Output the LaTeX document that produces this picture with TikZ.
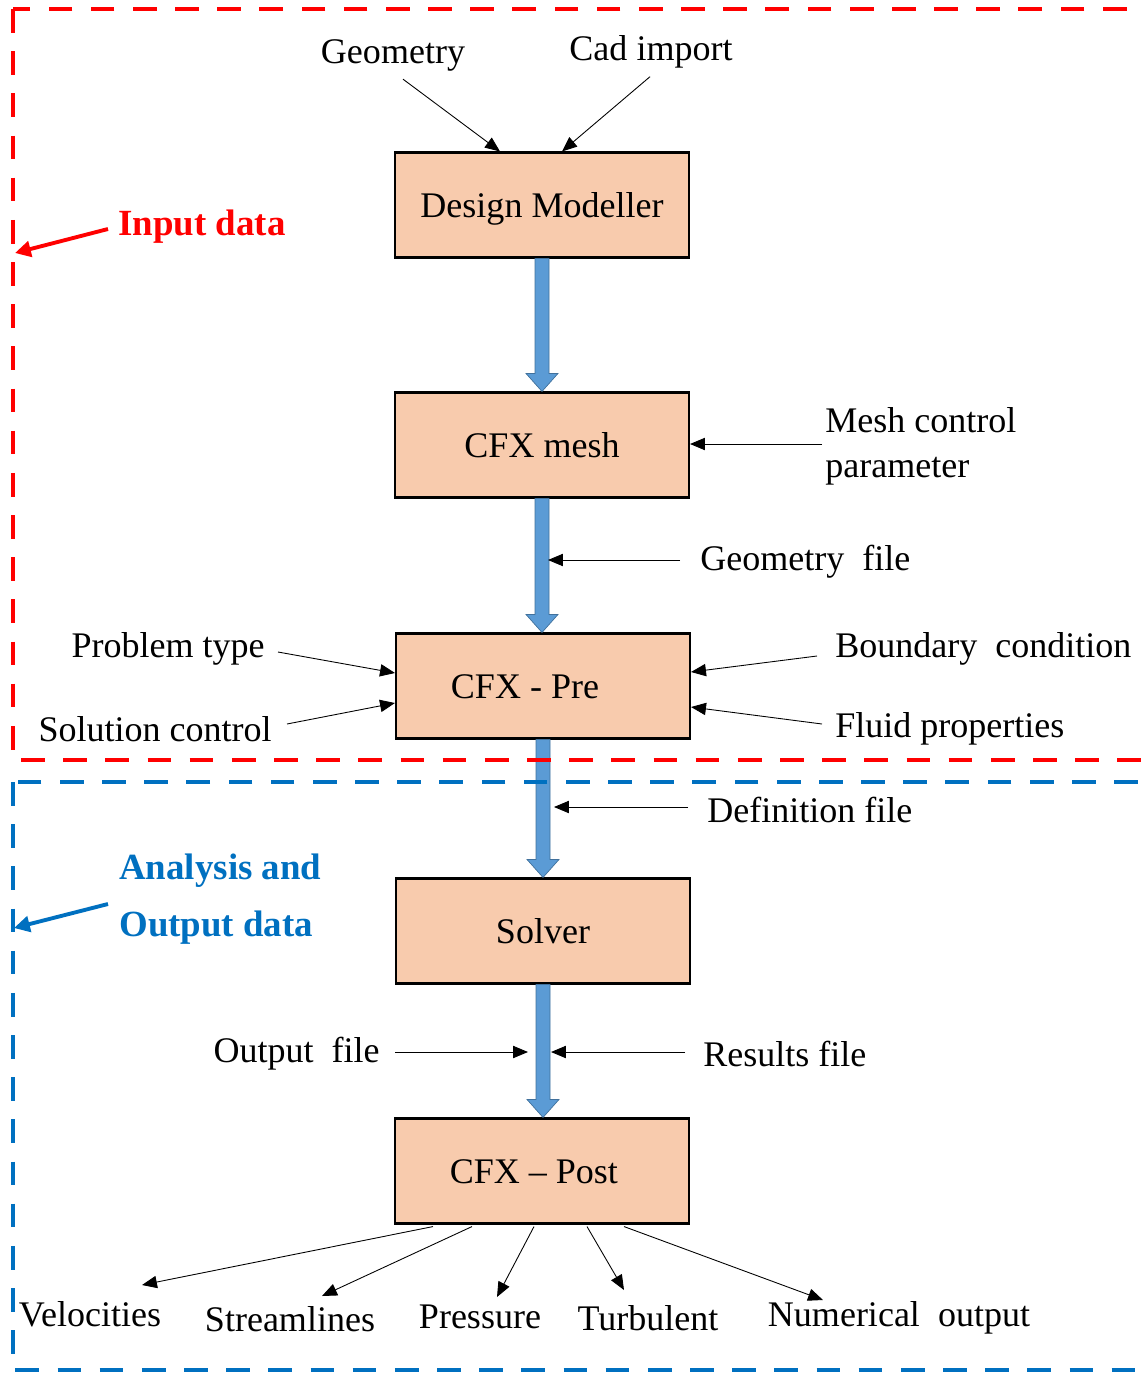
\documentclass[tikz,border=0pt]{standalone}
\usepackage{fontspec}
\setmainfont{Liberation Serif}
\usetikzlibrary{arrows.meta,calc}
\definecolor{peach}{RGB}{248, 203, 173}
\definecolor{steelblue}{RGB}{91, 155, 213}
\definecolor{darksteel}{RGB}{65, 113, 156}
\definecolor{officeblue}{RGB}{0, 112, 192}
\definecolor{brightred}{RGB}{255, 0, 0}

% fat blue arrow from the bottom of one box to the top of the next
\newcommand{\flowarrow}[2]{%
  \filldraw[flow] let \p1=(#1.south), \p2=(#2.north) in
    (\x1-0.14cm,\y1) -- (\x1+0.14cm,\y1) -- (\x1+0.14cm,\y2+0.36cm) -- (\x1+0.32cm,\y2+0.36cm)
    -- (\x1,\y2) -- (\x1-0.32cm,\y2+0.36cm) -- (\x1-0.14cm,\y2+0.36cm) -- cycle;}

\begin{document}
\begin{tikzpicture}[x=0.02cm, y=-0.02cm,
    box/.style={draw=black, line width=1.2pt, fill=peach, minimum width=5.88cm, minimum height=2.1cm,
                inner sep=0pt, text height=14.5pt, text depth=0pt, font=\fontsize{20.5}{25}\selectfont},
    lbl/.style={inner sep=0pt, font=\fontsize{20.5}{25.6}\selectfont, align=left},
    tag/.style={inner sep=0pt, font=\fontsize{21}{32.5}\selectfont\bfseries, align=left},
    feed/.style={-{Triangle[length=8.5pt,width=7pt]}, line width=0.5pt},
    flow/.style={line width=0.4pt, draw=darksteel, fill=steelblue},
    frame/.style={line width=2.2pt, dash pattern=on 13.5pt off 10.5pt},
    pointer/.style={line width=2.2pt, -{Triangle[length=9pt,width=9pt]}}]
    \useasboundingbox (0,0) rectangle (1145,1373);

    % process boxes
    \node[box] (dm)     at (542, 205) {Design Modeller};
    \node[box] (mesh)   at (542, 445) {CFX mesh};
    \node[box] (pre)    at (543, 686) {CFX - Pre\kern1em};
    \node[box] (solver) at (543, 931) {Solver};
    \node[box] (post)   at (542,1171) {CFX -- Post\kern0.45em};

    \flowarrow{dm}{mesh}
    \flowarrow{mesh}{pre}
    \flowarrow{pre}{solver}
    \flowarrow{solver}{post}

    % inputs
    \node[lbl] (geo)   at (393,  55) {Geometry};
    \node[lbl] (cad)   at (651,  52) {Cad import};
    \node[lbl, anchor=west] (mcp)   at (825, 446) {Mesh control\\parameter};
    \node[lbl, anchor=west] (gfile) at (700, 562) {Geometry\ \ file};
    \node[lbl, anchor=east] (ptype) at (265, 649) {Problem type};
    \node[lbl, anchor=east] (sctl)  at (272, 729) {Solution control};
    \node[lbl, anchor=west] (bcond) at (835, 649) {Boundary\ \ condition};
    \node[lbl, anchor=west] (fprop) at (835, 729) {Fluid properties};
    \node[lbl, anchor=west] (dfile) at (707, 810) {Definition file};
    \node[lbl, anchor=east] (ofile) at (380,1054) {Output\ \ file};
    \node[lbl, anchor=west] (rfile) at (703,1054) {Results file};

    \draw[feed] ($(geo.south)+(10,8)$) -- ($(dm.north)+(-42,0)$);
    \draw[feed] ($(cad.south)+(-1,8)$) -- ($(dm.north)+(20,0)$);
    \draw[feed] ($(mcp.west)+(-3,-2)$) -- ($(mesh.east)+(0,-1)$);
    \draw[feed] ($(gfile.west)+(-20,-2)$) -- ($(gfile.west -| mesh.south)+(6,-2)$);
    \draw[feed] ($(ptype.east)+(13,3)$) -- ($(pre.west)+(0,-13)$);
    \draw[feed] ($(sctl.east)+(15,-5)$) -- ($(pre.west)+(0,17)$);
    \draw[feed] ($(bcond.west)+(-18,7)$) -- ($(pre.east)+(0,-14)$);
    \draw[feed] ($(fprop.west)+(-13,-5)$) -- ($(pre.east)+(0,21)$);
    \draw[feed] ($(dfile.west)+(-19,-3)$) -- ($(dfile.west -| pre.south)+(11,-3)$);
    \draw[feed] ($(ofile.east)+(15,-2)$) -- ($(ofile.east -| solver.south)+(-15,-2)$);
    \draw[feed] ($(rfile.west)+(-18,-2)$) -- ($(rfile.west -| solver.south)+(8,-2)$);

    % outputs
    \node[lbl] (velo)   at ( 90,1314) {Velocities};
    \node[lbl] (stream) at (290,1319) {Streamlines};
    \node[lbl] (press)  at (480,1317) {Pressure};
    \node[lbl] (turb)   at (648,1318) {Turbulent};
    \node[lbl] (numout) at (899,1318) {Numerical\ \ output};

    \draw[feed] ($(post.south)+(-109,2)$) -- ($(velo)+(52,-29)$);
    \draw[feed] ($(post.south)+(-70,2)$)  -- ($(stream)+(32,-23)$);
    \draw[feed] ($(post.south)+(-8,2)$)   -- ($(press)+(17,-20)$);
    \draw[feed] ($(post.south)+(45,2)$)   -- ($(turb)+(-24,-28)$);
    \draw[feed] ($(post.south)+(82,2)$)   -- ($(numout)+(-76,-18)$);

    % stage frames
    \draw[frame, brightred]  (13,  9) rectangle (1147, 760);
    \draw[frame, officeblue] (13,782) rectangle (1147,1370);

    \node[tag, anchor=west, text=brightred]  (inp) at (118, 227) {Input data};
    \node[tag, anchor=west, text=officeblue] (ana) at (119, 899) {Analysis and\\Output data};
    \coordinate (inedge)  at (15, 253);
    \coordinate (anaedge) at (14, 928);
    \draw[pointer, brightred]  ($(inp.west)+(-10,2)$) -- (inedge);
    \draw[pointer, officeblue] ($(ana.west)+(-11,5)$) -- (anaedge);
\end{tikzpicture}
\end{document}
